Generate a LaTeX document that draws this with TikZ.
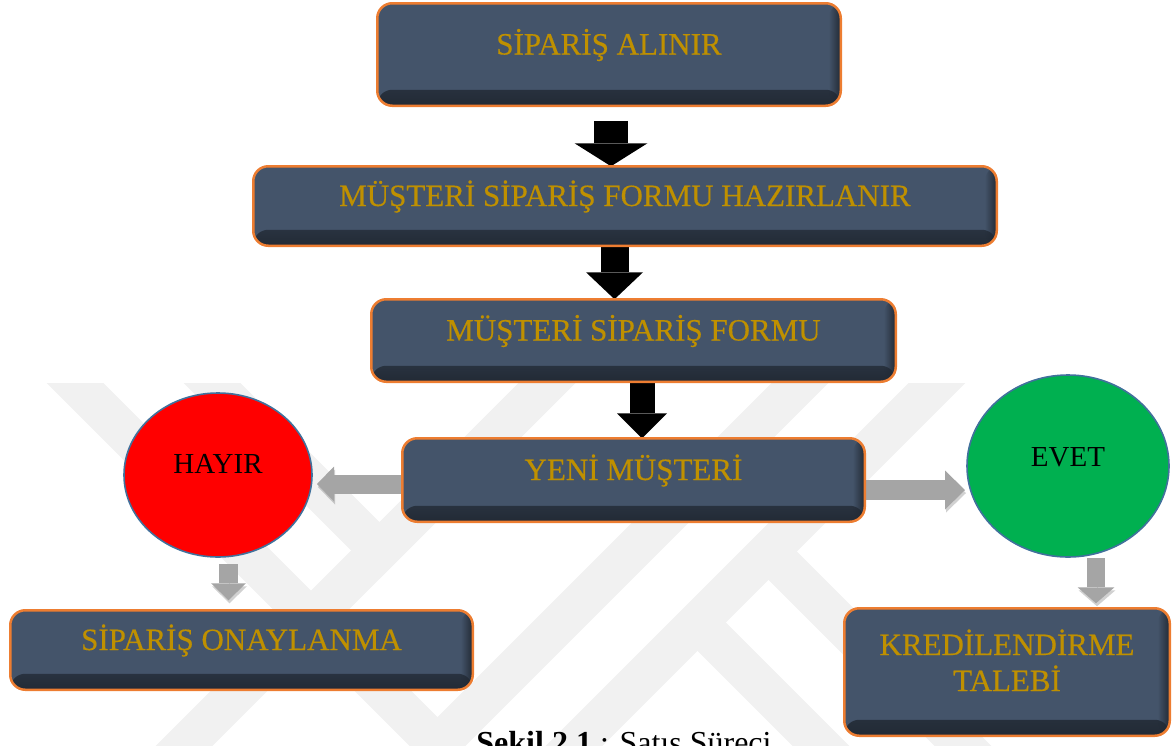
\documentclass[tikz,border=0pt]{standalone}
\usepackage{fontspec}
\setmainfont{Liberation Serif}
\newfontfamily\goldfont{Liberation Serif}[FakeBold=0.4]
\usetikzlibrary{calc,shapes.geometric,arrows.meta,fadings}

\definecolor{boxfill}{HTML}{44546A}
\definecolor{boxdark}{HTML}{222A35}
\definecolor{boxedge}{HTML}{ED7D31}
\definecolor{goldtxt}{HTML}{BF9000}
\definecolor{noRed}{HTML}{FF0000}
\definecolor{yesGreen}{HTML}{00B050}
\definecolor{ovalEdge}{HTML}{41719C}
\definecolor{flowGray}{HTML}{A5A5A5}
\definecolor{markGray}{HTML}{F1F1F1}

\pgfdeclarelayer{mark}
\pgfdeclarelayer{under}
\pgfsetlayers{mark,under,main}

\tikzfading[name=shaderight, left color=transparent!100, right color=transparent!0]

\begin{document}
\begin{tikzpicture}[x=1pt, y=-1pt,
  stepbox/.style={rectangle, rounded corners=15pt, draw=boxedge, line width=2.5pt,
    fill=boxfill, inner sep=0pt, outer sep=0pt, text=goldtxt,
    font=\goldfont\fontsize{31}{37}\selectfont, text height=0pt, text depth=0pt,
    path picture={
      \shade[top color=boxfill, bottom color=boxdark]
        ([yshift=16pt]path picture bounding box.south west) rectangle (path picture bounding box.south east);
      \fill[boxdark, path fading=shaderight]
        ([xshift=-12pt]path picture bounding box.north east) rectangle (path picture bounding box.south east);
    }},
  goldtext/.style={text=goldtxt, font=\goldfont\fontsize{31}{37}\selectfont, inner sep=0pt},
  answer/.style={ellipse, draw=ovalEdge, line width=1.6pt, inner sep=0pt, outer sep=0pt,
    font=\fontsize{29}{34}\selectfont, text=black, text height=0pt},
  blackarrow/.style n args={3}{draw=black, line width=#1pt,
    -{Triangle[length=#3pt, width=#2pt, line width=0pt]}},
  grayarrow/.style n args={3}{draw=flowGray, line width=#1pt,
    -{Triangle[length=#3pt, width=#2pt, line width=0pt]},
    preaction={draw=black, draw opacity=0.18, fill opacity=0.18,
      transform canvas={xshift=1pt, yshift=-3pt}}},
  markband/.style={draw=markGray, line width=40pt, line join=miter, line cap=butt}
]
\useasboundingbox (0,0) rectangle (1175,745);

% faint background emblem made of diagonal bands
\begin{pgfonlayer}{mark}
  \begin{scope}
    \clip (0,383) rectangle (1175,745);
    \draw[markband] (45,353) -- (437.5,745.5) -- (830,353);
    \draw[markband] (182,353) -- (379.5,550.5) -- (577,353);
    \draw[markband] (577,353) -- (155,775);
    \draw[markband] (967,353) -- (545,775);
    \draw[markband] (768.5,551.5) -- (1000,783);
    \draw[markband] (697.5,622.5) -- (900,825);
  \end{scope}
\end{pgfonlayer}

% process boxes
\node[stepbox, minimum width=463.5pt, minimum height=102.5pt] (s1) at (609,54.5) {SİPARİŞ ALINIR};
\node[stepbox, minimum width=743.5pt, minimum height=79.5pt] (s2) at (625,206) {MÜŞTERİ SİPARİŞ FORMU HAZIRLANIR};
\node[stepbox, minimum width=524.5pt, minimum height=82.5pt] (s3) at (633.5,340.5) {MÜŞTERİ SİPARİŞ FORMU};
\node[stepbox, minimum width=462.5pt, minimum height=83.5pt] (yeni) at (633.5,480) {YENİ MÜŞTERİ};
\node[stepbox, minimum width=462.5pt, minimum height=79.5pt] (onay) at (241.5,650) {SİPARİŞ ONAYLANMA};
\node[stepbox, minimum width=325.5pt, minimum height=127.5pt] (kredi) at (1007,672) {};
\node[goldtext, anchor=base] (kredi1) at ($(kredi.center)+(0,-17)$) {KREDİLENDİRME};
\node[goldtext, anchor=base] (kredi2) at ($(kredi.center)+(0,19)$) {TALEBİ};

% decision outcomes
\node[answer, fill=noRed, minimum width=188pt, minimum height=164pt, text depth=4pt] (hayir) at (218,475) {HAYIR};
\node[answer, fill=yesGreen, minimum width=202pt, minimum height=182pt, text depth=0pt] (evet) at (1068,466) {EVET};

% connectors
\begin{pgfonlayer}{under}
  \draw[blackarrow={34}{73}{23}] ($(s1.south)+(2,15)$) -- ($(s2.north)+(-14,0)$);
  \draw[blackarrow={28}{57}{27}] ($(s2.south)+(-10.5,-2)$) -- ($(s3.north)+(-19,0)$);
  \draw[blackarrow={25}{50}{25}] ($(s3.south)+(8.5,-1)$) -- ($(yeni.north)+(8.5,0)$);
  \draw[grayarrow={19}{35}{17}] ($(yeni.west)+(0,4)$) -- ($(hayir.east)+(5,9)$);
  \draw[grayarrow={20}{39}{20}] ($(yeni.east)+(0,10)$) -- ($(evet.west)+(-2,24)$);
  \draw[grayarrow={19}{35}{17}] ($(hayir.south)+(10.5,7)$) -- ($(onay.north)+(-13,-10)$);
  \draw[grayarrow={18}{37}{16}] ($(evet.south)+(28,1)$) -- ($(kredi.north)+(89,-5)$);
\end{pgfonlayer}

% caption
\node[font=\fontsize{32}{38}\selectfont, anchor=base, inner sep=0pt] (caption) at (624,753)
  {\textbf{Şekil 2.1} : Satış Süreci};
\end{tikzpicture}
\end{document}
